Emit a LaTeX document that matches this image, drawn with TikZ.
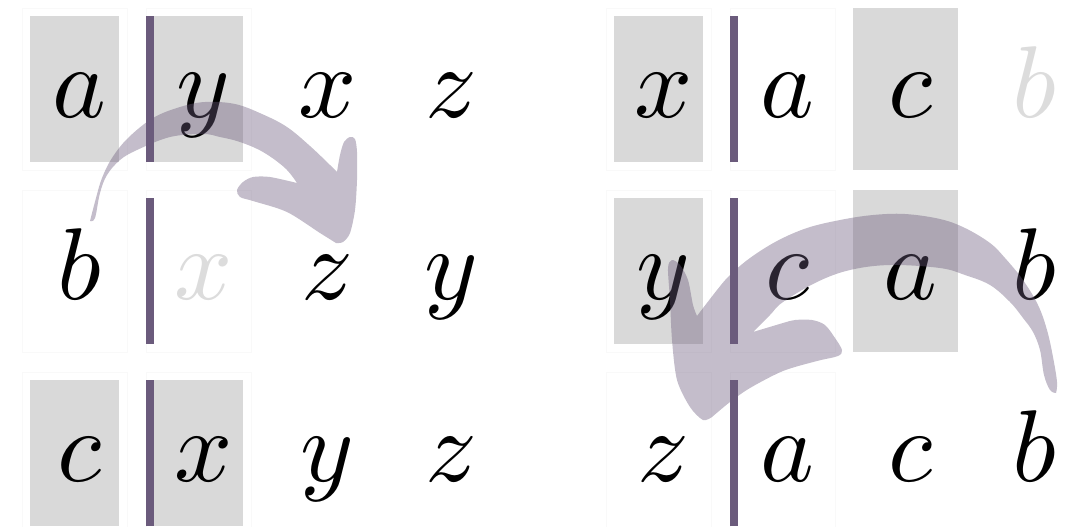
\documentclass[tikz,border=0pt]{standalone}
\usepackage{graphicx}
\definecolor{cellgray}{RGB}{217,217,217}
\definecolor{barpurple}{RGB}{107,91,124}
\definecolor{faintletter}{RGB}{220,220,220}
\definecolor{rim}{RGB}{249,249,249}
\newcommand{\bigletter}[1]{\scalebox{5.1}{$#1$}}
\tikzset{
  cellbox/.style={minimum width=52.5pt, minimum height=81pt, inner sep=0pt, outer sep=0pt},
  rimbox/.style={cellbox, draw=rim, line width=0.5pt},
  insetgray/.style={fill=cellgray, minimum width=44.5pt, minimum height=73pt, inner sep=0pt},
  fullgray/.style={fill=cellgray, minimum width=52.5pt, minimum height=81pt, inner sep=0pt},
  bar/.style={fill=barpurple, minimum width=3.75pt, minimum height=73pt, inner sep=0pt, anchor=west},
  letter/.style={anchor=base, inner sep=0pt},
  swoosh/.style={fill=barpurple, fill opacity=0.4}
}
\begin{document}
\begin{tikzpicture}[x=0.5pt,y=-0.5pt]
\useasboundingbox (0,0) rectangle (1092,526);
% cells
\foreach \r/\yc in {1/89,2/271,3/453}{
  \foreach \c/\xc in {1/74.5,2/198.5}{\node[rimbox] (L\r\c) at (\xc,\yc) {};}
  \foreach \c/\xc in {3/322.5,4/446.5}{\node[cellbox] (L\r\c) at (\xc,\yc) {};}
  \foreach \c/\xc in {1/658.5,2/782.5}{\node[rimbox] (R\r\c) at (\xc,\yc) {};}
  \foreach \c/\xc in {3/905.5,4/1029.5}{\node[cellbox] (R\r\c) at (\xc,\yc) {};}
}
% gray highlights
\node[insetgray] (gL11) at (L11.center) {};
\node[insetgray] (gL12) at (L12.center) {};
\node[insetgray] (gL31) at (L31.center) {};
\node[insetgray] (gL32) at (L32.center) {};
\node[insetgray] (gR11) at (R11.center) {};
\node[fullgray]  (gR13) at (R13.center) {};
\node[insetgray] (gR21) at (R21.center) {};
\node[fullgray]  (gR23) at (R23.center) {};
% purple bars
\foreach \r in {1,2,3}{
  \node[bar] (bL\r) at (L\r2.west) {};
  \node[bar] (bR\r) at (R\r2.west) {};
}
% letters
\foreach \n/\t in {L11/a,L12/y,L13/x,L14/z,L21/b,L23/z,L24/y,L31/c,L32/x,L33/y,L34/z,
                   R11/x,R12/a,R13/c,R21/y,R22/c,R23/a,R24/b,R31/z,R32/a,R33/c,R34/b}{
  \node[letter] (t\n) at ([xshift=2.5pt,yshift=-14pt]\n.center) {\bigletter{\t}};
}
\node[letter, text=faintletter] (tL22) at ([xshift=2.5pt,yshift=-14pt]L22.center) {\bigletter{x}};
\node[letter, text=faintletter] (tR14) at ([xshift=2.5pt,yshift=-14pt]R14.center) {\bigletter{b}};
% left curved arrow
\fill[swoosh]
  plot[smooth, tension=0.6] coordinates {(90,221) (96,198) (102,178) (112,158) (128,138) (153,118) (180,107) (205,102) (235,104) (262,114) (287,127) (310,146) (330,165) (337,172)}
  -- plot[smooth, tension=0.5] coordinates {(337,172) (340,155) (344,142) (350,137) (355,139) (357,152) (357,180) (355,210) (350,233) (343,242) (336,243)}
  -- plot[smooth, tension=0.5] coordinates {(336,243) (320,233) (287,212) (253,201) (240,197) (237,190) (243,182) (253,177) (270,177) (297,183)}
  -- plot[smooth, tension=0.6] coordinates {(297,183) (285,168) (263,152) (240,142) (220,137) (203,134) (170,137) (137,150) (120,160) (107,175) (100,193) (95,218) (90,221)}
  -- cycle;
% right curved arrow
\fill[swoosh]
  plot[smooth, tension=0.6] coordinates {(1056,393) (1057,382) (1053,357) (1047,330) (1038,305) (1023,280) (1005,258) (990,243) (965,228) (940,219) (905,214) (873,215) (840,220) (807,228) (777,241) (750,258) (730,275) (717,290) (697,316)}
  -- plot[smooth, tension=0.5] coordinates {(697,316) (693,305) (688,280) (680,265) (672,260) (668,268) (670,300) (672,340) (677,380) (690,407) (703,420) (712,417)}
  -- plot[smooth, tension=0.5] coordinates {(712,417) (730,402) (750,388) (783,371) (817,361) (838,356) (842,350) (835,338) (825,325) (812,320) (795,320) (783,323) (753,332)}
  -- plot[smooth, tension=0.6] coordinates {(753,332) (770,315) (783,302) (817,282) (850,270) (890,265) (940,268) (965,275) (990,285) (1010,302) (1023,318) (1033,332) (1040,350) (1044,375) (1050,390) (1056,393)}
  -- cycle;
\end{tikzpicture}
\end{document}
